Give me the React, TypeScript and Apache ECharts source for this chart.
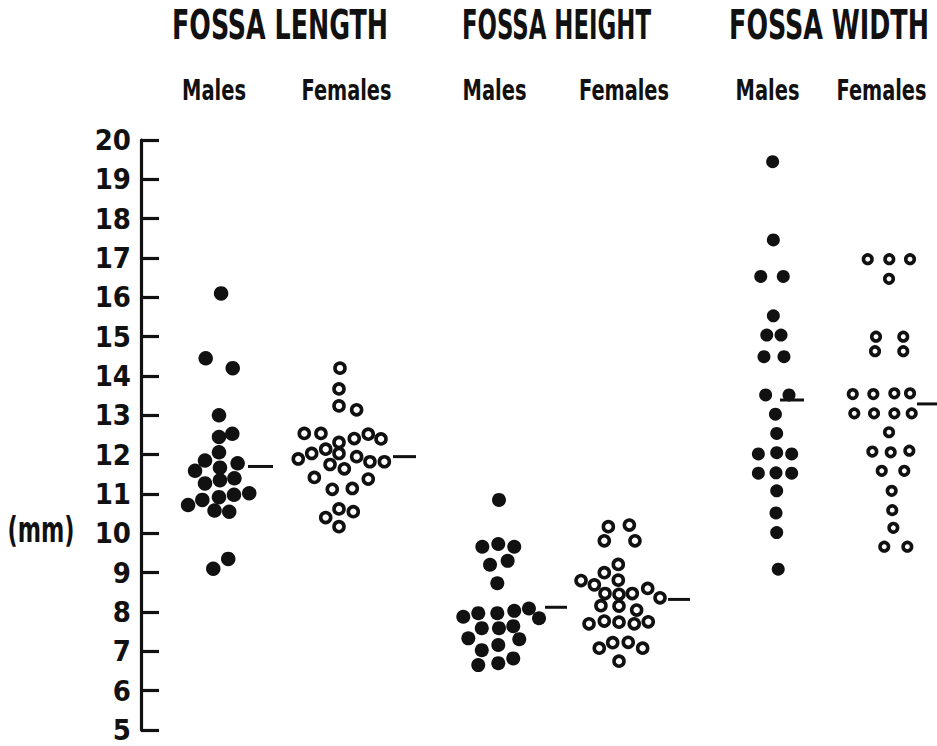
import { useEffect, useRef } from "react";
import * as echarts from "echarts";

// Fossa measurements in mm. Each point is [swarm lane offset, value].
const measures = ["FOSSA LENGTH", "FOSSA HEIGHT", "FOSSA WIDTH"];
const sexes = ["Males", "Females"];
const unitLabel = "(mm)";

const lengthMales: [number, number][] = [
  [0.15, 16.1], [-0.95, 14.45], [0.98, 14.2], [0, 13.0], [0, 12.45], [0.95, 12.53],
  [0, 12.06], [-1.0, 11.85], [1.33, 11.78], [0.07, 11.67], [-1.71, 11.59], [1.1, 11.4],
  [0.07, 11.35], [-1.0, 11.27], [0, 10.92], [1.07, 10.98], [2.16, 11.02], [-1.19, 10.85],
  [-2.21, 10.72], [-0.32, 10.58], [0.73, 10.55], [0.66, 9.35], [-0.41, 9.1],
];
const lengthFemales: [number, number][] = [
  [0.07, 14.2], [0, 13.67], [0, 13.24], [1.26, 13.14], [-2.48, 12.54], [-1.29, 12.54],
  [0, 12.31], [1.09, 12.41], [2.09, 12.52], [3.0, 12.4], [-0.95, 12.14], [0, 12.03],
  [-1.95, 12.03], [-2.91, 11.89], [1.26, 11.95], [2.21, 11.82], [3.24, 11.82], [-0.64, 11.75],
  [0.38, 11.64], [-1.76, 11.42], [2.09, 11.38], [-0.48, 11.12], [0.95, 11.14], [0, 10.62],
  [-0.95, 10.4], [1.02, 10.55], [0, 10.17],
];
const heightMales: [number, number][] = [
  [0.07, 10.85], [-1.12, 9.66], [0.02, 9.73], [1.16, 9.66], [-0.57, 9.2], [0.69, 9.3],
  [-0.05, 8.73], [-2.48, 7.88], [-1.41, 7.97], [-0.05, 7.97], [1.16, 8.03], [2.21, 8.09],
  [2.93, 7.84], [-1.16, 7.59], [0.07, 7.59], [1.09, 7.64], [-2.12, 7.33], [1.52, 7.31],
  [-1.16, 7.03], [0.02, 7.16], [1.09, 6.82], [-1.41, 6.65], [0.02, 6.7],
];
const heightFemales: [number, number][] = [
  [-0.76, 10.17], [0.74, 10.21], [-1.05, 9.81], [1.14, 9.81], [-0.05, 9.21], [-1.05, 9.0],
  [-2.71, 8.8], [-0.05, 8.81], [-1.76, 8.69], [-1.0, 8.47], [0, 8.45], [0.95, 8.47],
  [2.05, 8.6], [2.93, 8.36], [-1.29, 8.16], [0, 8.15], [1.26, 8.05], [-2.14, 7.7],
  [-1.05, 7.77], [0, 7.74], [1.09, 7.7], [2.09, 7.75], [-1.41, 7.08], [-0.45, 7.22],
  [0.66, 7.23], [1.69, 7.08], [0, 6.75],
];
const widthMales: [number, number][] = [
  [-0.24, 19.45], [-0.19, 17.46], [-1.09, 16.53], [0.52, 16.53], [-0.19, 15.53], [-0.66, 15.04],
  [0.36, 15.04], [-0.86, 14.49], [0.57, 14.49], [-0.74, 13.52], [0.93, 13.52], [-0.04, 13.03],
  [0.05, 12.54], [-1.26, 12.02], [0.05, 12.05], [1.12, 12.02], [-1.26, 11.53], [0, 11.54],
  [1.12, 11.53], [0.05, 11.08], [0, 10.52], [0.05, 10.02], [0.16, 9.09],
];
const widthFemales: [number, number][] = [
  [-1.59, 16.97], [-0.05, 16.97], [1.43, 16.97], [-0.07, 16.47], [-1.0, 15.0], [0.95, 15.0],
  [-1.07, 14.63], [0.95, 14.63], [-2.66, 13.54], [-1.19, 13.54], [0.31, 13.56], [1.43, 13.56],
  [-2.55, 13.05], [-1.14, 13.05], [0.31, 13.05], [1.55, 13.05], [-0.07, 12.57], [-1.26, 12.08],
  [0.05, 12.06], [1.38, 12.1], [-0.59, 11.59], [1.02, 11.59], [0.12, 11.08], [0.16, 10.59],
  [0.24, 10.14], [-0.41, 9.66], [1.24, 9.66],
];
// Group means, drawn as short dashes beside each swarm
const groupMeans = [11.7, 11.95, 8.12, 8.32, 13.39, 13.29];

const groups = [lengthMales, lengthFemales, heightMales, heightFemales, widthMales, widthFemales];

// Layout (pixels)
const W = 937;
const H = 746;
const AXIS_X = 141;
const PLOT_TOP = 140;
const PLOT_BOTTOM = 16;
const LANE = 14; // px per swarm lane
const columnCenters = [219, 339, 498, 619, 776, 890];
const meanDash: [number, number][] = [[29, 54], [54, 77], [47, 69], [49, 71], [4, 28], [27, 47]];
const dotSizes = [14.5, 10, 14, 10, 13, 8.5];

const INK = "#111111";
const FONT = "'DejaVu Sans Condensed', 'DejaVu Sans', sans-serif";

function fitScale(text: string, size: number, target: number): number {
  const ctx = document.createElement("canvas").getContext("2d");
  if (!ctx) return 1;
  ctx.font = `bold ${size}px ${FONT}`;
  const w = ctx.measureText(text).width;
  return w > 0 ? target / w : 1;
}

function label(text: string, cx: number, cy: number, size: number, width: number) {
  return {
    type: "text",
    x: cx,
    y: cy,
    scaleX: fitScale(text, size, width),
    silent: true,
    style: {
      text,
      fill: INK,
      fontSize: size,
      fontWeight: "bold",
      fontFamily: FONT,
      textAlign: "center",
      textVerticalAlign: "middle",
      align: "center",
      verticalAlign: "middle",
    },
  };
}

export default function App() {
  const ref = useRef<HTMLDivElement>(null);

  useEffect(() => {
    if (!ref.current) return;
    const chart = echarts.init(ref.current, undefined, { renderer: "svg" });
    const toLane = (px: number) => (px - AXIS_X) / LANE;

    const series: any[] = [];
    groups.forEach((pts, i) => {
      const open = i % 2 === 1;
      const c = toLane(columnCenters[i]);
      series.push({
        type: "scatter",
        name: `${measures[Math.floor(i / 2)]} ${sexes[i % 2]}`,
        data: pts.map(([off, v]) => [c + off, v]),
        symbol: "circle",
        symbolSize: dotSizes[i],
        itemStyle: open
          ? { color: "#ffffff", borderColor: INK, borderWidth: 3.6, opacity: 1 }
          : { color: INK, borderWidth: 0, opacity: 1 },
        emphasis: { disabled: true },
        clip: false,
        z: 3,
      });
      series.push({
        type: "line",
        data: [
          [c + meanDash[i][0] / LANE, groupMeans[i]],
          [c + meanDash[i][1] / LANE, groupMeans[i]],
        ],
        symbol: "none",
        lineStyle: { color: INK, width: 3 },
        clip: false,
        silent: true,
        z: 2,
      });
    });

    const graphics: any[] = [];
    const titleCenters = [280, 556.5, 829];
    const titleWidths = [216, 189, 200];
    measures.forEach((m, k) => graphics.push(label(m, titleCenters[k], 25, 40, titleWidths[k])));
    const maleCenters = [214, 494.5, 767.5];
    const femaleCenters = [346.5, 624, 881.5];
    maleCenters.forEach((cx) => graphics.push(label(sexes[0], cx, 90, 29, 64)));
    femaleCenters.forEach((cx) => graphics.push(label(sexes[1], cx, 90, 29, 90)));
    graphics.push(label(unitLabel, 41, 530, 35, 67));

    chart.setOption({
      animation: false,
      backgroundColor: "#ffffff",
      grid: { left: AXIS_X, right: 0, top: PLOT_TOP, bottom: PLOT_BOTTOM },
      xAxis: {
        type: "value",
        min: 0,
        max: (W - AXIS_X) / LANE,
        show: false,
      },
      yAxis: {
        type: "value",
        min: 5,
        max: 20,
        interval: 1,
        splitLine: { show: false },
        axisLine: { show: true, lineStyle: { color: INK, width: 3.2 } },
        axisTick: { show: true, inside: true, length: 18, lineStyle: { color: INK, width: 3.2 } },
        axisLabel: {
          color: INK,
          fontSize: 29,
          fontWeight: "bold",
          fontFamily: FONT,
          margin: 10,
        },
      },
      graphic: graphics,
      series,
    });

    return () => chart.dispose();
  }, []);

  return (
    <div
      ref={ref}
      style={{ position: "absolute", left: 0, top: 0, width: W, height: H, background: "#fff" }}
    />
  );
}
